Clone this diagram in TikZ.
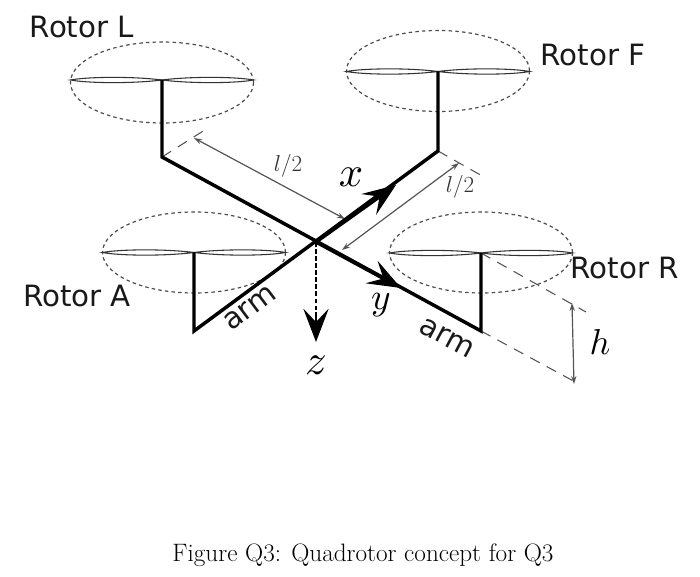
\documentclass[tikz,border=0pt]{standalone}
\usepackage{fontspec}
\usetikzlibrary{arrows.meta}
\newfontfamily\rotorfont{DejaVu Sans}
\definecolor{dimgray}{gray}{0.33}
\tikzset{
  arm/.style={line width=2.6pt,black,line join=miter},
  disc/.style={draw=black!70,line width=0.9pt,dash pattern=on 2.6pt off 2.4pt},
  blade/.style={draw=black!80,line width=0.8pt,fill=white},
  guide/.style={draw=dimgray,line width=0.8pt,dash pattern=on 8pt off 6pt},
  dim/.style={draw=dimgray,line width=0.9pt,{Stealth[length=6pt,width=4pt]}-{Stealth[length=6pt,width=4pt]}},
  axistip/.style={-{Stealth[length=25pt,width=19pt,inset=10pt]}},
  rlabel/.style={font=\rotorfont\fontsize{22}{26}\selectfont,text=black!90,inner sep=0pt},
  mlabel/.style={inner sep=0pt},
  dimlabel/.style={inner sep=0pt,font=\fontsize{19}{23}\selectfont,text=black!80},
}
\newcommand{\axmath}[2][3.2]{\scalebox{#1}{$#2$}}
\newcommand{\rotorunit}[5]{% name, hub x, hub y, base y, ellipse cy
  \coordinate (#1hub) at (#2,#3);
  \coordinate (#1base) at (#2,#4);
  \node[draw=none,inner sep=0pt,minimum size=0pt] (#1disc) at (#2,#5) {};
  \draw[disc] (#1disc) ellipse [x radius=91.5,y radius=40.5];
  \coordinate (#1lt) at (#2-91.5,#3);
  \coordinate (#1rt) at (#2+91.5,#3);
  \draw[blade] (#1hub) .. controls (#2-30,#3-3.8) and (#2-75,#3-3.2) .. (#1lt)
    .. controls (#2-75,#3+3.2) and (#2-30,#3+3.8) .. cycle;
  \draw[blade] (#1hub) .. controls (#2+30,#3-3.8) and (#2+75,#3-3.2) .. (#1rt)
    .. controls (#2+75,#3+3.2) and (#2+30,#3+3.8) .. cycle;
}
\begin{document}
\begin{tikzpicture}[x=0.75pt,y=-0.75pt]
\useasboundingbox (0,0) rectangle (700,577);

\rotorunit{L}{162}{80}{157}{82.5}
\rotorunit{F}{438}{71.5}{151}{71}
\rotorunit{A}{194}{252.5}{331}{252.5}
\rotorunit{R}{481}{253}{331}{252.5}

\coordinate (O) at (316,242);
\coordinate (xtip) at (396,185);
\coordinate (ytip) at (401,288);
\coordinate (ztip) at (316,342);

% guide lines
\coordinate (Lg) at (208,128);
\coordinate (Fg) at (484,177);
\coordinate (Rg1) at (586,312);
\coordinate (Rg2) at (579,384);
\draw[guide] (Lbase) -- (Lg);
\draw[guide] (Fbase) -- (Fg);
\draw[guide] (Rhub) -- (Rg1);
\draw[guide] (Rbase) -- (Rg2);

% dimension arrows
\coordinate (d1a) at (194,138);
\coordinate (d1b) at (345,219);
\coordinate (d2a) at (459,163);
\coordinate (d2b) at (342,250);
\coordinate (h1) at (572,303);
\coordinate (h2) at (574,384);
\draw[dim] (d1a) -- (d1b);
\draw[dim] (d2a) -- (d2b);
\draw[dim] (h1) -- (h2);

% frame
\draw[arm] (Lhub) -- (Lbase) -- (Rbase) -- (Rhub);
\draw[arm] (Fhub) -- (Fbase) -- (Abase) -- (Ahub);
\draw[arm,axistip] (O) -- (xtip);
\draw[arm,axistip] (O) -- (ytip);
\draw[line width=1.5pt,dash pattern=on 3.5pt off 1.8pt] (O) -- (316,318);
\draw[line width=1.5pt,axistip] (316,312) -- (ztip);

% labels
\node[rlabel] (tL) at (82,27) {Rotor L};
\node[rlabel] (tF) at (593,55) {Rotor F};
\node[rlabel] (tA) at (77,296) {Rotor A};
\node[rlabel] (tR) at (625,268) {Rotor R};
\node[rlabel,rotate=37] (a1) at (250,308) {arm};
\node[rlabel,rotate=-28] (a2) at (447,338) {arm};
\node[mlabel] (lx) at (351,177) {\axmath[3.2]{x}};
\node[mlabel] (ly) at (381,305) {\axmath[2.8]{y}};
\node[mlabel] (lz) at (316,365) {\axmath{z}};
\node[mlabel] (lh) at (600,342) {\axmath[2.7]{h}};
\node[dimlabel] (l1) at (288,166) {$l/2$};
\node[dimlabel] (l2) at (460,187) {$l/2$};
\node[inner sep=0pt,font=\fontsize{18.9}{22}\selectfont] (cap) at (363,555) {Figure Q3: Quadrotor concept for Q3};
\end{tikzpicture}
\end{document}
